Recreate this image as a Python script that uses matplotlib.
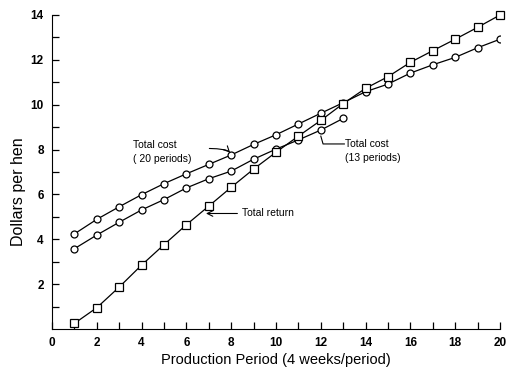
import matplotlib
matplotlib.use('Agg')
import matplotlib.pyplot as plt

periods = list(range(1, 21))
total_return = [0.25, 0.95, 1.87, 2.85, 3.76, 4.65, 5.48, 6.32, 7.13, 7.88,
                8.6, 9.3, 10.05, 10.73, 11.25, 11.89, 12.41, 12.92, 13.45, 14.0]
cost_20 = [4.24, 4.89, 5.45, 5.99, 6.48, 6.92, 7.34, 7.76, 8.23, 8.66,
           9.14, 9.62, 10.09, 10.58, 10.92, 11.41, 11.78, 12.11, 12.54, 12.92]
periods_13 = list(range(1, 14))
cost_13 = [3.58, 4.19, 4.76, 5.31, 5.77, 6.29, 6.70, 7.04, 7.57, 8.02,
           8.43, 8.87, 9.39]

plt.rcParams['font.family'] = ['Liberation Sans', 'DejaVu Sans']

fig = plt.figure(figsize=(5.11, 3.72), dpi=100)
ax = fig.add_axes([0.1018, 0.1156, 0.8767, 0.8441])

ax.plot(periods, cost_20, color='black', lw=0.9, marker='o', ms=5,
        mfc='white', mec='black', mew=0.9)
ax.plot(periods_13, cost_13, color='black', lw=0.9, marker='o', ms=5,
        mfc='white', mec='black', mew=0.9)
ax.plot(periods, total_return, color='black', lw=0.9, marker='s', ms=5.5,
        mfc='white', mec='black', mew=0.9, clip_on=False)

ax.set_xlim(0, 20)
ax.set_ylim(0, 14)
ax.spines['top'].set_visible(False)
ax.spines['right'].set_visible(False)
ax.set_xticks(range(0, 21))
ax.set_xticklabels([str(i) if i % 2 == 0 else '' for i in range(0, 21)])
ax.set_yticks(range(2, 15, 2))
ax.set_yticks(range(1, 15, 2), minor=True)
ax.tick_params(direction='in', length=5, width=0.9, labelsize=8.5, pad=6)
ax.tick_params(which='minor', direction='in', length=5, width=0.9)
for lbl in ax.get_xticklabels() + ax.get_yticklabels():
    lbl.set_fontweight('bold')

ax.set_xlabel('Production Period (4 weeks/period)', fontsize=10.5, labelpad=3)
ax.set_ylabel('Dollars per hen', fontsize=11.5)
ax.yaxis.set_label_coords(-0.058, 0.436)

# annotations
ax.text(3.6, 7.9, 'Total cost\n( 20 periods)', fontsize=7.5, va='center',
        ha='left', linespacing=1.5)
ax.annotate('', xy=(8.0, 7.75), xytext=(6.9, 8.05),
            arrowprops=dict(arrowstyle='->', lw=0.8,
                            connectionstyle='angle3,angleA=0,angleB=90'))
ax.text(13.1, 7.95, 'Total cost\n(13 periods)', fontsize=7.5, va='center',
        ha='left', linespacing=1.5)
ax.plot([12.0, 12.1, 13.05], [8.6, 8.25, 8.25], color='black', lw=0.8)
ax.text(8.5, 5.15, 'Total return', fontsize=7.5, va='center', ha='left')
ax.annotate('', xy=(6.75, 5.15), xytext=(8.4, 5.15),
            arrowprops=dict(arrowstyle='->', lw=0.8))

fig.savefig('out.png', dpi=100)
